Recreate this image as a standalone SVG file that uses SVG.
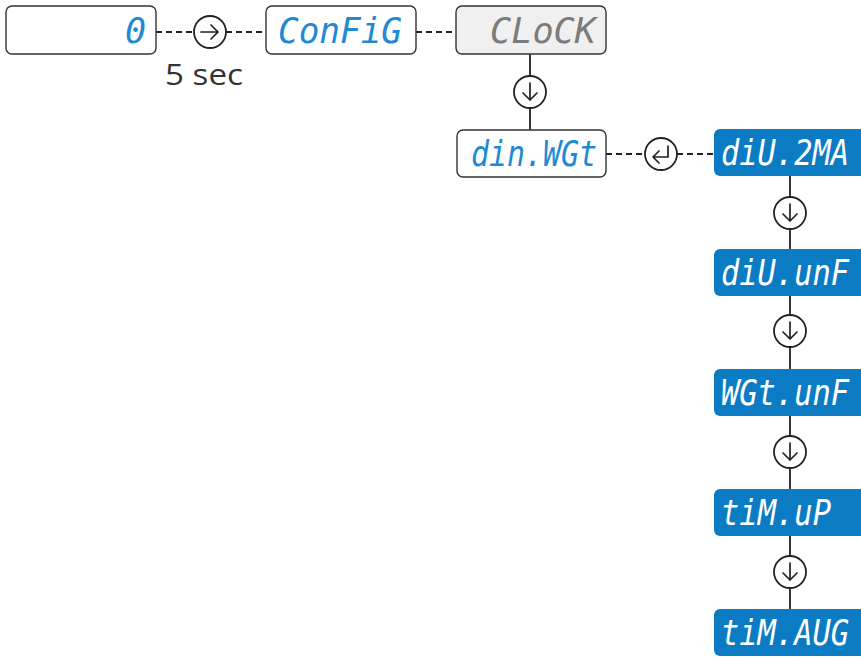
<svg xmlns="http://www.w3.org/2000/svg" width="861" height="657" viewBox="0 0 861 657">
<style>
.box{fill:#fff;stroke:#333;stroke-width:1.4}
.grey{fill:#f0f0f1;stroke:#333;stroke-width:1.4}
.blue{fill:#0b7cc3;stroke:none}
.seg{font-family:"DejaVu Sans Mono","Liberation Mono",monospace;font-style:oblique;font-size:35px}
.sm{font-size:32px}
.tb{fill:#1f8ad3}
.tg{fill:#7b7b7b}
.tw{fill:#fff}
.dash{stroke:#222;stroke-width:1.8;stroke-dasharray:6 4;fill:none}
.solid{stroke:#222;stroke-width:1.8;fill:none}
.circ{fill:#fff;stroke:#222;stroke-width:1.8}
.arr{stroke:#222;stroke-width:1.7;fill:none;stroke-linecap:round;stroke-linejoin:round}
.lbl{font-family:"Open Sans","Liberation Sans",sans-serif;font-size:30px;fill:#333}
</style>
<defs>
<g id="down"><circle class="circ" r="16"/><path class="arr" d="M0,-9V8M-7,1L0,8L7,1"/></g>
<g id="right"><circle class="circ" r="16"/><path class="arr" d="M-9,0H8M1,-7L8,0L1,7"/></g>
<g id="enter"><circle class="circ" r="16"/><path class="arr" d="M7,-8V3H-8M-2,-3L-8,3L-2,9"/></g>
<path id="bbox" d="M720,0H861V47H720A6,6 0 0 1 714,41V6A6,6 0 0 1 720,0Z"/>
</defs>
<g id="connectors">
<path class="dash" d="M156,32H194M226,32H266M416,32H456M606,154H645M677,154H714"/>
<path class="solid" d="M530,54V76M530,108V130M790,176V197M790,229V249M790,296V315M790,347V369M790,416V436M790,468V489M790,536V556M790,588V609"/>
<use href="#right" x="210" y="32"/>
<use href="#down" x="530" y="92"/>
<use href="#enter" x="661" y="154"/>
<use href="#down" x="790" y="213"/>
<use href="#down" x="790" y="331"/>
<use href="#down" x="790" y="452"/>
<use href="#down" x="790" y="572"/>
<text class="lbl" x="165" y="85" textLength="78" lengthAdjust="spacingAndGlyphs">5 sec</text>
</g>
<g id="n-zero"><rect class="box" x="6" y="6" width="150" height="48" rx="6"/><text class="seg tb" x="146" y="43" text-anchor="end">0</text></g>
<g id="n-config"><rect class="box" x="266" y="6" width="150" height="48" rx="6"/><text class="seg tb" x="278" y="43" textLength="124" lengthAdjust="spacingAndGlyphs">ConFiG</text></g>
<g id="n-clock"><rect class="grey" x="456" y="6" width="150" height="48" rx="6"/><text class="seg tg" x="490" y="43" textLength="106" lengthAdjust="spacingAndGlyphs">CLoCK</text></g>
<g id="n-dinwgt"><rect class="box" x="457" y="130" width="149" height="47" rx="6"/><text class="seg tb" x="471" y="166" textLength="126" lengthAdjust="spacingAndGlyphs">din.WGt</text></g>
<g id="n-div2ma"><use href="#bbox" class="blue" y="129"/><text class="seg sm tw" transform="translate(721,165) scale(1,1.1)" textLength="128" lengthAdjust="spacingAndGlyphs">diU.2MA</text></g>
<g id="n-divunf"><use href="#bbox" class="blue" y="249"/><text class="seg sm tw" transform="translate(721,285) scale(1,1.1)" textLength="128" lengthAdjust="spacingAndGlyphs">diU.unF</text></g>
<g id="n-wgtunf"><use href="#bbox" class="blue" y="369"/><text class="seg sm tw" transform="translate(721,405) scale(1,1.1)" textLength="128" lengthAdjust="spacingAndGlyphs">WGt.unF</text></g>
<g id="n-timup"><use href="#bbox" class="blue" y="489"/><text class="seg sm tw" transform="translate(721,525) scale(1,1.1)" textLength="110" lengthAdjust="spacingAndGlyphs">tiM.uP</text></g>
<g id="n-timavg"><use href="#bbox" class="blue" y="609"/><text class="seg sm tw" transform="translate(721,645) scale(1,1.1)" textLength="128" lengthAdjust="spacingAndGlyphs">tiM.AUG</text></g>
</svg>
